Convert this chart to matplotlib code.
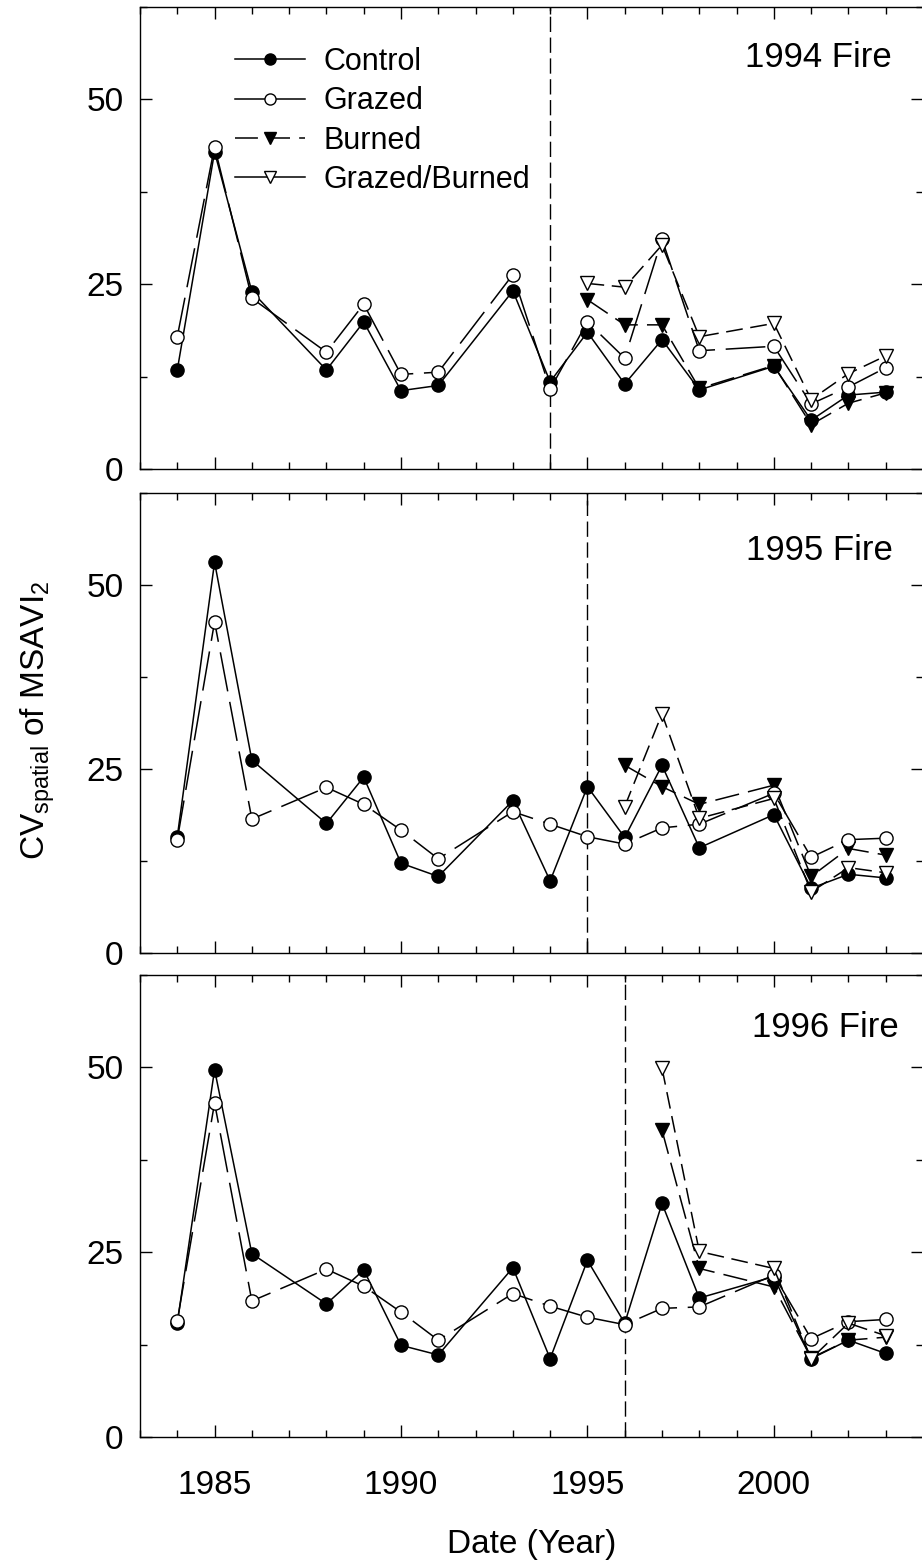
import numpy as np
import matplotlib
matplotlib.use("Agg")
import matplotlib.pyplot as plt
from matplotlib.lines import Line2D
from matplotlib.ticker import MultipleLocator

plt.rcParams['font.family'] = ['Liberation Sans', 'DejaVu Sans']
plt.rcParams['mathtext.fontset'] = 'custom'
plt.rcParams['mathtext.rm'] = 'Liberation Sans'
plt.rcParams['mathtext.it'] = 'Liberation Sans'

# years sampled for control / grazed sites
years = [1984, 1985, 1986, 1988, 1989, 1990, 1991, 1993, 1994,
         1995, 1996, 1997, 1998, 2000, 2001, 2002, 2003]

# ---- 1994 fire ----
fire_1994 = 1994
control_94 = [13.4, 42.9, 24.0, 13.4, 19.9, 10.6, 11.3, 24.1, 11.8,
              18.5, 11.5, 17.5, 10.7, 13.9, 6.6, 10.0, 10.4]
grazed_94 = [17.9, 43.6, 23.1, 15.8, 22.3, 12.8, 13.1, 26.3, 10.8,
             19.9, 15.0, 31.1, 16.0, 16.6, 8.8, 11.1, 13.7]
burn_years_94 = [1995, 1996, 1997, 1998, 2000, 2001, 2002, 2003]
burned_94 = [22.9, 19.5, 19.5, 10.9, 14.0, 6.0, 8.9, 10.3]
grazburn_94 = [25.1, 24.6, 30.3, 17.9, 19.7, 9.4, 12.9, 15.3]

# ---- 1995 fire ----
fire_1995 = 1995
control_95 = [15.8, 53.1, 26.2, 17.6, 23.9, 12.2, 10.4, 20.7, 9.8,
              22.6, 15.7, 25.5, 14.3, 18.8, 8.8, 10.7, 10.2]
grazed_95 = [15.4, 45.0, 18.2, 22.5, 20.2, 16.7, 12.8, 19.2, 17.5,
             15.8, 14.8, 17.0, 17.5, 21.7, 13.0, 15.4, 15.6]
burn_years_95 = [1996, 1997, 1998, 2000, 2001, 2002, 2003]
burned_95 = [25.5, 22.6, 20.2, 22.8, 10.4, 14.2, 13.3]
grazburn_95 = [19.9, 32.5, 18.3, 21.0, 8.3, 11.6, 10.9]

# ---- 1996 fire ----
fire_1996 = 1996
control_96 = [15.4, 49.7, 24.8, 18.0, 22.6, 12.4, 11.1, 22.9, 10.6,
              23.9, 15.4, 31.6, 18.8, 21.7, 10.6, 13.1, 11.3]
grazed_96 = [15.7, 45.2, 18.4, 22.7, 20.4, 16.9, 13.1, 19.4, 17.7,
             16.2, 15.2, 17.4, 17.6, 21.9, 13.3, 15.6, 15.9]
burn_years_96 = [1997, 1998, 2000, 2001, 2002, 2003]
burned_96 = [41.5, 22.8, 20.3, 10.7, 13.1, 13.5]
grazburn_96 = [49.9, 25.1, 22.8, 10.6, 15.4, 13.7]

panels = [
    (fire_1994, control_94, grazed_94, burn_years_94, burned_94, grazburn_94, "1994 Fire"),
    (fire_1995, control_95, grazed_95, burn_years_95, burned_95, grazburn_95, "1995 Fire"),
    (fire_1996, control_96, grazed_96, burn_years_96, burned_96, grazburn_96, "1996 Fire"),
]

FS = 24
W, H = 922, 1562
fig = plt.figure(figsize=(W / 100, H / 100), dpi=100)

# axes boxes in pixels: (top, bottom)
boxes = [(7, 469), (493, 953), (975, 1437)]
left_px, right_px = 140, 923

ms = 9.5
lw = 1.1
grazed_ls = (0, (26, 7))
burned_ls = (0, (16, 6))
gb_ls = (0, (11, 5))

for i, (fire, ctl, grz, byrs, brn, gbr, label) in enumerate(panels):
    top, bot = boxes[i]
    ax = fig.add_axes([left_px / W, 1 - bot / H, (right_px - left_px) / W, (bot - top) / H])

    ax.axvline(fire, color='black', lw=1.0, ls=(0, (11, 4)), zorder=1)

    ax.plot(years, ctl, color='black', lw=lw, ls='-', marker='o', ms=ms,
            mfc='black', mec='black', mew=1, zorder=3)
    ax.plot(years, grz, color='black', lw=lw, ls=grazed_ls, marker='o', ms=ms,
            mfc='white', mec='black', mew=1, zorder=4)
    ax.plot(byrs, brn, color='black', lw=lw, ls=burned_ls, marker='v', ms=ms,
            mfc='black', mec='black', mew=1, zorder=3)
    ax.plot(byrs, gbr, color='black', lw=lw, ls=gb_ls, marker='v', ms=ms,
            mfc='white', mec='black', mew=1, zorder=4)

    ax.set_xlim(1983, 2004)
    ax.set_ylim(0, 62.5)
    ax.set_xticks([1985, 1990, 1995, 2000])
    ax.xaxis.set_minor_locator(MultipleLocator(1))
    ax.set_yticks([0, 25, 50])
    ax.yaxis.set_minor_locator(MultipleLocator(12.5))
    ax.tick_params(which='both', direction='in', top=True, right=True,
                   labelsize=FS, width=1.0)
    ax.tick_params(which='major', length=8.5)
    ax.tick_params(which='minor', length=5)
    ax.tick_params(axis='y', pad=12)
    ax.tick_params(axis='x', pad=24)
    if i < 2:
        ax.tick_params(axis='x', labelbottom=False)
    for s in ax.spines.values():
        s.set_linewidth(1.0)

    yt = {0: 0.89, 1: 0.876, 2: 0.887}[i]
    xr = {0: 892, 1: 893, 2: 899}[i]
    ax.text((xr - left_px) / (right_px - left_px), yt, label, transform=ax.transAxes,
            ha='right', va='center', fontsize=25)

    if i == 0:
        handles = [
            Line2D([], [], color='black', lw=lw, ls='-', marker='o', ms=8,
                   mfc='black', mec='black'),
            Line2D([], [], color='black', lw=lw, ls='-', marker='o', ms=8,
                   mfc='white', mec='black'),
            Line2D([], [], color='black', lw=lw, ls=(0, (15, 6)), marker='v', ms=8,
                   mfc='black', mec='black'),
            Line2D([], [], color='black', lw=lw, ls='-', marker='v', ms=8,
                   mfc='white', mec='black'),
        ]
        ax.legend(handles, ['Control', 'Grazed', 'Burned', 'Grazed/Burned'],
                  loc='upper left',
                  bbox_to_anchor=((235 - left_px) / (right_px - left_px), 0.913),
                  frameon=False, fontsize=22, handlelength=2.3, handletextpad=0.6,
                  labelspacing=0.3, borderpad=0, borderaxespad=0)

fig.text(0.041, 1 - 720 / H, r'CV$_{\mathrm{spatial}}$ of MSAVI$_2$', rotation=90,
         ha='center', va='center', fontsize=FS)
fig.text((left_px + right_px) / 2 / W, 1 - 1545 / H, 'Date (Year)',
         ha='center', va='center', fontsize=FS)

fig.savefig('out.png', dpi=100)
